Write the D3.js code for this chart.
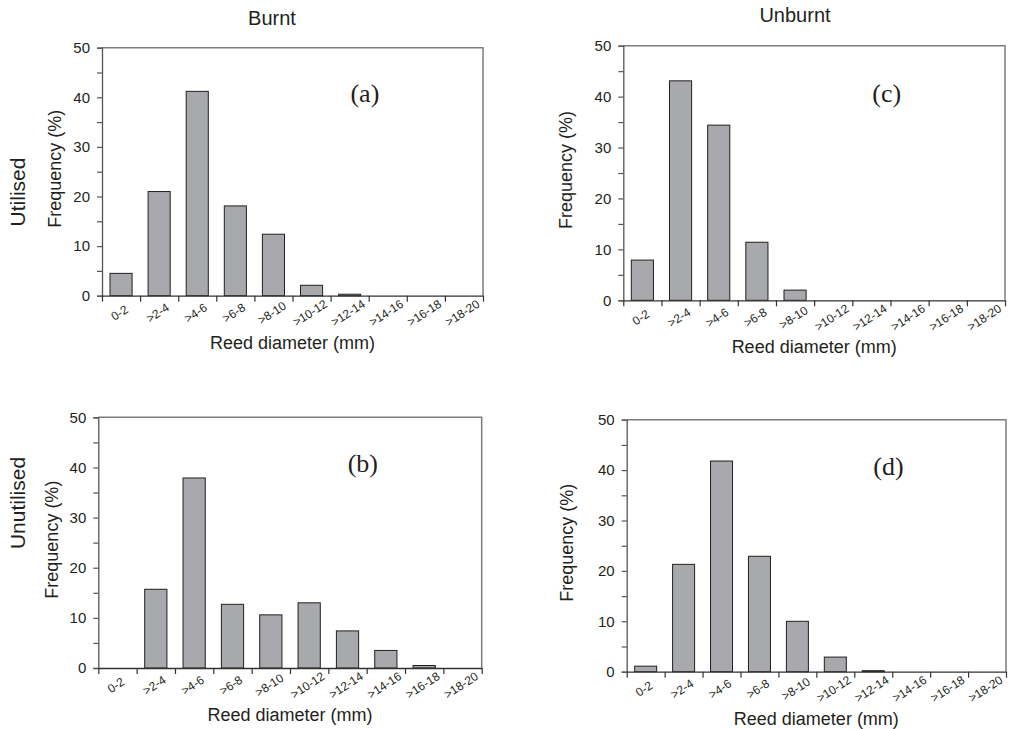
<!DOCTYPE html>
<html>
<head>
<meta charset="utf-8">
<script src="https://cdn.jsdelivr.net/npm/d3@7/dist/d3.min.js"></script>
<style>
  html, body { margin: 0; padding: 0; background: #fff; }
  svg { display: block; }
  text { font-family: "Liberation Sans", Arial, sans-serif; fill: #231f20; }
</style>
</head>
<body>
<svg id="chart" width="1011" height="729"></svg>
<script>
// ---- data ----
const categories = ["0-2", ">2-4", ">4-6", ">6-8", ">8-10", ">10-12", ">12-14", ">14-16", ">16-18", ">18-20"];
const burntUtilised     = [4.5, 21.0, 41.2, 18.1, 12.4, 2.1, 0.3, 0, 0, 0];
const burntUnutilised   = [0, 15.7, 37.9, 12.7, 10.6, 13.0, 7.4, 3.5, 0.5, 0];
const unburntUtilised   = [7.9, 43.1, 34.4, 11.4, 2.0, 0, 0, 0, 0, 0];
const unburntUnutilised = [1.1, 21.3, 41.8, 22.9, 10.0, 2.9, 0.2, 0, 0, 0];
const yTicks = [0, 5, 10, 15, 20, 25, 30, 35, 40, 45, 50];
const columnTitles = ["Burnt", "Unburnt"];
const rowTitles = ["Utilised", "Unutilised"];
const panelLabels = ["(a)", "(b)", "(c)", "(d)"];

const svg = d3.select("#chart");

const panels = [
  { values: burntUtilised,     label: panelLabels[0], x0: 102,   x1: 483,  y0: 47.7,  y1: 295.7, yOff: 47 },
  { values: burntUnutilised,   label: panelLabels[1], x0: 98.3,  x1: 481.7, y0: 417.3, y1: 668,  yOff: 46 },
  { values: unburntUtilised,   label: panelLabels[2], x0: 623.3, x1: 1005, y0: 45.7,  y1: 300.3, yOff: 57 },
  { values: unburntUnutilised, label: panelLabels[3], x0: 626.7, x1: 1006, y0: 419.7, y1: 671.7, yOff: 60 }
];

panels.forEach(p => {
  const g = svg.append("g");
  const x = d3.scaleBand().domain(categories).range([p.x0, p.x1]).paddingInner(0.42).paddingOuter(0.21);
  const xb = d3.scaleLinear().domain([0, categories.length]).range([p.x0, p.x1]);
  const y = d3.scaleLinear().domain([0, 50]).range([p.y1, p.y0]);

  // frame top & right
  g.append("path")
    .attr("d", `M${p.x0},${p.y0}H${p.x1}V${p.y1}`)
    .attr("fill", "none").attr("stroke", "#7d7d7d").attr("stroke-width", 1.5);

  // bars
  g.selectAll("rect.bar")
    .data(categories.map((c, i) => ({ c, v: p.values[i] })).filter(d => d.v > 0))
    .join("rect")
    .attr("class", "bar")
    .attr("x", d => x(d.c))
    .attr("width", x.bandwidth())
    .attr("y", d => y(d.v))
    .attr("height", d => y(0) - y(d.v))
    .attr("fill", "#a7a9ac")
    .attr("stroke", "#231f20")
    .attr("stroke-width", 1);

  // y axis
  const ya = g.append("g")
    .attr("transform", `translate(${p.x0},0)`)
    .call(d3.axisLeft(y).tickValues(yTicks).tickSize(5).tickPadding(7)
      .tickFormat(d => d % 10 === 0 ? d : ""));
  ya.select(".domain").attr("stroke", "#555").attr("stroke-width", 1.3);
  ya.selectAll(".tick line").attr("stroke", "#555").attr("stroke-width", 1.2);
  ya.selectAll(".tick text").style("font-size", "15px").attr("fill", "#231f20")
    .style("font-family", "'Liberation Sans', Arial, sans-serif");

  // x axis (ticks at bin boundaries)
  const xa = g.append("g")
    .attr("transform", `translate(0,${p.y1})`)
    .call(d3.axisBottom(xb).ticks(categories.length).tickSize(6).tickSizeOuter(0).tickFormat(""));
  xa.select(".domain").attr("stroke", "#333").attr("stroke-width", 1.3);
  xa.selectAll(".tick line").attr("stroke", "#333").attr("stroke-width", 1.2);

  // x tick labels
  g.selectAll("text.xl")
    .data(categories)
    .join("text")
    .attr("class", "xl")
    .attr("transform", d => `translate(${x(d) + x.bandwidth() / 2 - 1},${p.y1 + 18}) rotate(-33)`)
    .attr("text-anchor", "middle")
    .attr("dominant-baseline", "middle")
    .style("font-size", "12px")
    .attr("fill", "#333")
    .text(d => d);

  // axis titles
  g.append("text")
    .attr("x", (p.x0 + p.x1) / 2)
    .attr("y", p.y1 + 53)
    .attr("text-anchor", "middle")
    .style("font-size", "18px")
    .text("Reed diameter (mm)");

  g.append("text")
    .attr("transform", `translate(${p.x0 - p.yOff + 6},${(p.y0 + p.y1) / 2 - 3}) rotate(-90)`)
    .attr("text-anchor", "middle")
    .style("font-size", "18px")
    .text("Frequency (%)");

  // panel label
  g.append("text")
    .attr("x", p.x0 + (p.x1 - p.x0) * 0.69)
    .attr("y", p.y0 + (p.y1 - p.y0) * 0.22)
    .attr("text-anchor", "middle")
    .style("font-family", "'Liberation Serif', 'Times New Roman', serif")
    .style("font-size", "26px")
    .text(p.label);
});

// column titles
svg.append("text").attr("x", 272).attr("y", 25).attr("text-anchor", "middle")
  .style("font-size", "20px").text(columnTitles[0]);
svg.append("text").attr("x", 795).attr("y", 22).attr("text-anchor", "middle")
  .style("font-size", "20px").text(columnTitles[1]);

// row titles
svg.append("text").attr("transform", "translate(25,192) rotate(-90)").attr("text-anchor", "middle")
  .style("font-size", "21px").text(rowTitles[0]);
svg.append("text").attr("transform", "translate(25,503) rotate(-90)").attr("text-anchor", "middle")
  .style("font-size", "21px").text(rowTitles[1]);
</script>
</body>
</html>
